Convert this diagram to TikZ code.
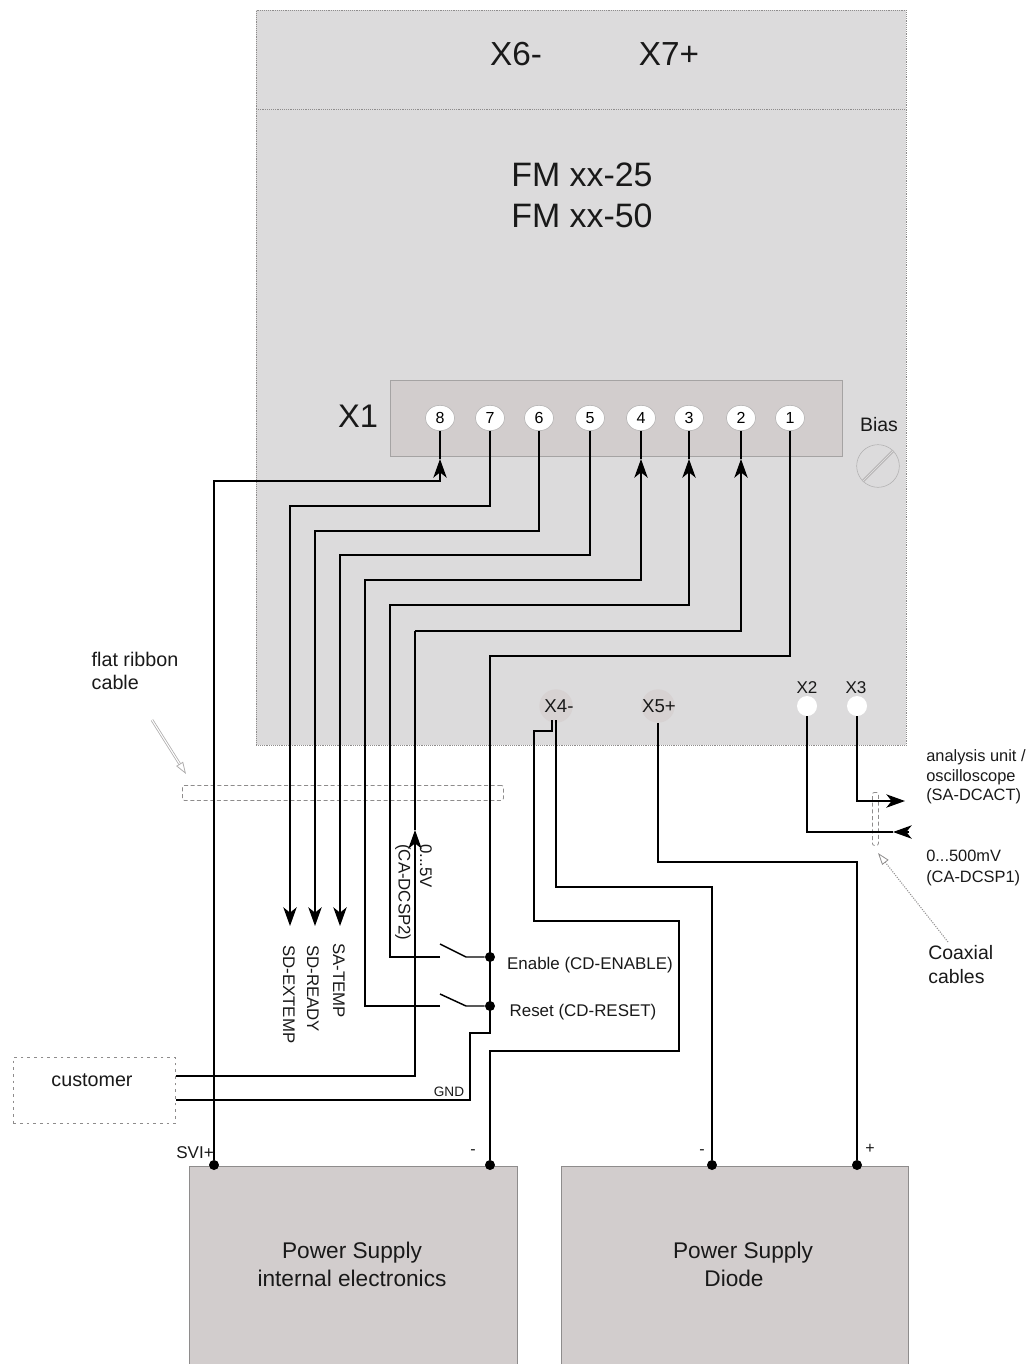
\documentclass[tikz,border=0pt]{standalone}
\usepackage{fontspec}
\setmainfont{Liberation Sans}
\usetikzlibrary{arrows.meta,shapes.geometric}
\definecolor{boxgray}{HTML}{DCDBDC}
\definecolor{stripgray}{HTML}{D2CDCD}
\definecolor{edgegray}{HTML}{8E8C8C}

\begin{document}
\begin{tikzpicture}[
    x=0.75pt, y=-0.75pt,
    % text sizes and labels
    sz/.style={font=\fontsize{#1}{#1}\selectfont},
    label text/.style={inner sep=0pt, text=black!90},
    down text/.style={label text, sz=12.6, rotate=-90, anchor=west},
    % boxes
    main box/.style={draw=edgegray, densely dotted, fill=boxgray, anchor=north west,
        minimum width=487.5pt, inner sep=0pt},
    strip box/.style={draw=edgegray!80, fill=stripgray, anchor=north west,
        minimum width=339pt, minimum height=57pt, inner sep=0pt},
    supply box/.style={draw=edgegray, fill=stripgray, anchor=north west,
        minimum height=148.5pt, inner sep=0pt},
    % terminals
    pin/.style={ellipse, draw=edgegray!70, fill=white, minimum width=22pt,
        minimum height=19pt, inner sep=0pt, sz=12},
    port/.style={circle, fill=white, minimum size=15pt, inner sep=0pt},
    gray port/.style={circle, fill=stripgray!90, minimum size=25pt, inner sep=0pt, sz=14},
    dot/.style={circle, fill=black, minimum size=7.5pt, inner sep=0pt},
    % cables and wires
    cable mark/.style={draw=edgegray, densely dashed, rounded corners=1.5pt, line width=0.6pt,
        anchor=north west, inner sep=0pt},
    wire/.style={draw=black, line width=1.5pt, line join=miter},
    arrow wire/.style={wire, -{Stealth[length=14pt, width=10pt, inset=4pt]}},
    blade/.style={draw=black, line width=1.1pt}
]

% enclosure
\useasboundingbox (0,0) rectangle (1031,1364);
\node[main box, minimum height=74.25pt] (top) at (256,10) {};
\node[main box, minimum height=477pt] (body) at (256,109) {};
\node[strip box] (strip) at (390,380) {};

\node[label text, sz=25] (xsix) at (516,54) {X6-};
\node[label text, sz=25] (xseven) at (669,54) {X7+};
\node[label text, sz=25.4] (fmone) at (582,175) {FM xx-25};
\node[label text, sz=25.4] (fmtwo) at (582,216) {FM xx-50};
\node[label text, sz=24.5] (xone) at (358,416) {X1};

% pins of X1
\foreach \n/\px in {8/440,7/490,6/539,5/590,4/641,3/689,2/741,1/790}
    \node[pin] (pin\n) at (\px,418) {\n};

\node[label text, sz=14.6] (bias) at (879,425) {Bias};
\node[circle, draw=edgegray!70, fill=boxgray, minimum size=32pt, inner sep=0pt] (screw) at (878,466) {};
\draw[edgegray!70, double=boxgray, double distance=0.7pt, line width=0.6pt] (screw.225) -- (screw.45);

% ports on the lower edge
\node[gray port] (xfour) at (556,706) {};
\node[gray port] (xfive) at (658,706) {};
\node[label text, sz=14] (xfourlabel) at (559,706) {X4-};
\node[label text, sz=14] (xfivelabel) at (659,706) {X5+};
\node[port] (xtwo) at (807,706) {};
\node[port] (xthree) at (857,706) {};
\node[label text, sz=12.8] (xtwolabel) at (807,688) {X2};
\node[label text, sz=12.8] (xthreelabel) at (856,688) {X3};

% supplies and customer
\node[supply box, minimum width=246pt] (psone) at (189,1166) {};
\node[supply box, minimum width=260.25pt] (pstwo) at (561,1166) {};
\node[label text, sz=17] (psonea) at (352,1253) {Power Supply};
\node[label text, sz=17] (psoneb) at (352,1278) {internal electronics};
\node[label text, sz=17] (pstwoa) at (743,1253) {Power Supply};
\node[label text, sz=17] (pstwob) at (734,1278) {Diode};
\node[draw=edgegray, dash pattern=on 2pt off 3pt, anchor=north west, minimum width=121.5pt,
    minimum height=49.5pt, inner sep=0pt] (customerbox) at (13,1057) {};
\node[label text, sz=14.8] (customer) at (92,1080) {customer};

% cable marks
\node[cable mark, minimum width=240.75pt, minimum height=11.25pt] (ribbon) at (182,785) {};
\node[cable mark, minimum width=4.5pt, minimum height=39.75pt] (coax) at (872,792) {};
\node[label text, align=left, font=\fontsize{14.8}{17.3}\selectfont] (ribbonlabel) at (135,671) {flat ribbon\\cable};
\node[label text, align=left, font=\fontsize{14.6}{18}\selectfont, anchor=west] (coaxlabel) at (928,965) {Coaxial\\cables};
\coordinate (ribbontail) at (152,720);
\coordinate (ribbontip) at (186,774);
\coordinate (coaxtail) at (948,942);
\coordinate (coaxtip) at (878,853);
\draw[edgegray!70, double=white, double distance=0.8pt, line width=0.6pt, -{Triangle[open, length=9pt, width=6pt, line width=0.6pt]}] (ribbontail) -- (ribbontip);
\draw[edgegray, densely dotted, line width=0.8pt, -{Triangle[open, length=9pt, width=6pt, line width=0.6pt]}] (coaxtail) -- (coaxtip);

% dots
\node[dot] (dotsvi) at (214,1165) {};
\node[dot] (dotminus) at (490,1165) {};
\node[dot] (dotdiode) at (712,1165) {};
\node[dot] (dotplus) at (857,1165) {};
\node[dot] (dotenable) at (490,957) {};
\node[dot] (dotreset) at (490,1006) {};

% wires of X1
\coordinate (tipextemp) at (290,926);
\coordinate (tipready) at (315,926);
\coordinate (tiptemp) at (340,926);
\coordinate (enablea) at (440,957);
\coordinate (enableb) at (466,957);
\coordinate (reseta) at (440,1006);
\coordinate (resetb) at (466,1006);
\draw[arrow wire] (dotsvi) |- (440,481) -- (440,459);
\draw[wire] (440,459) -- (pin8.south);
\draw[arrow wire] (pin7.south) |- (290,506) -- (tipextemp);
\draw[arrow wire] (pin6.south) |- (315,531) -- (tipready);
\draw[arrow wire] (pin5.south) |- (340,555) -- (tiptemp);
\draw[arrow wire] (reseta) -| (365,580) -- (641,580) -- (641,459);
\draw[arrow wire] (enablea) -| (390,605) -- (689,605) -- (689,459);
\draw[wire] (641,459) -- (pin4.south);
\draw[wire] (689,459) -- (pin3.south);
\draw[arrow wire] (415,631) -- (741,631) -- (741,459);
\draw[wire] (741,459) -- (pin2.south);
\draw[wire] (pin1.south) |- (490,656) -- (490,1033) -- (470,1033) -- (470,1100) -- (customerbox.east |- 0,1100);

% analog input from customer
\draw[arrow wire] (customerbox.east |- 0,1076) -| (415,830);
\draw[wire] (415,830) -- (415,631);

% switches
\draw[blade] (440,944) -- (enableb) -- (dotenable);
\draw[blade] (440,994) -- (resetb) -- (dotreset);

% supply wires
\draw[wire] (dotminus) |- (679,1051) |- (534,921) |- (552,731) -- (552,720);
\draw[wire] (556,720) |- (712,887) -- (dotdiode);
\draw[wire] (xfive) |- (857,862) -- (dotplus);

% coax wires
\coordinate (coaxout) at (905,801);
\coordinate (coaxin) at (893,832);
\draw[arrow wire] (xthree) |- (coaxout);
\draw[wire] (xtwo) |- (coaxin);
\draw[arrow wire] (909,832) -- (coaxin);

% labels
\node[down text] (sdextemp) at (289,945) {SD-EXTEMP};
\node[down text] (sdready) at (313,945) {SD-READY};
\node[down text] (satemp) at (339,943) {SA-TEMP};
\node[down text] (dcsptwo) at (403,844) {(CA-DCSP2)};
\node[down text] (zerofive) at (426,844) {0...5V};
\node[label text, sz=12.7] (enablelabel) at (590,965) {Enable (CD-ENABLE)};
\node[label text, sz=12.7] (resetlabel) at (583,1012) {Reset (CD-RESET)};
\node[label text, sz=10.2] (gnd) at (449,1092) {GND};
\node[label text, sz=12.8] (svi) at (195,1153) {SVI+};
\node[label text, sz=12] (minusone) at (473,1152) {-};
\node[label text, sz=12] (minustwo) at (702,1152) {-};
\node[label text, sz=12] (plus) at (870,1149) {+};
\node[label text, align=left, anchor=west, font=\fontsize{12.3}{14.6}\selectfont] (analysis) at (926,777) {analysis unit /\\oscilloscope\\(SA-DCACT)};
\node[label text, align=left, anchor=west, font=\fontsize{12.3}{16}\selectfont] (milli) at (926,868) {0...500mV\\(CA-DCSP1)};

\end{tikzpicture}
\end{document}
